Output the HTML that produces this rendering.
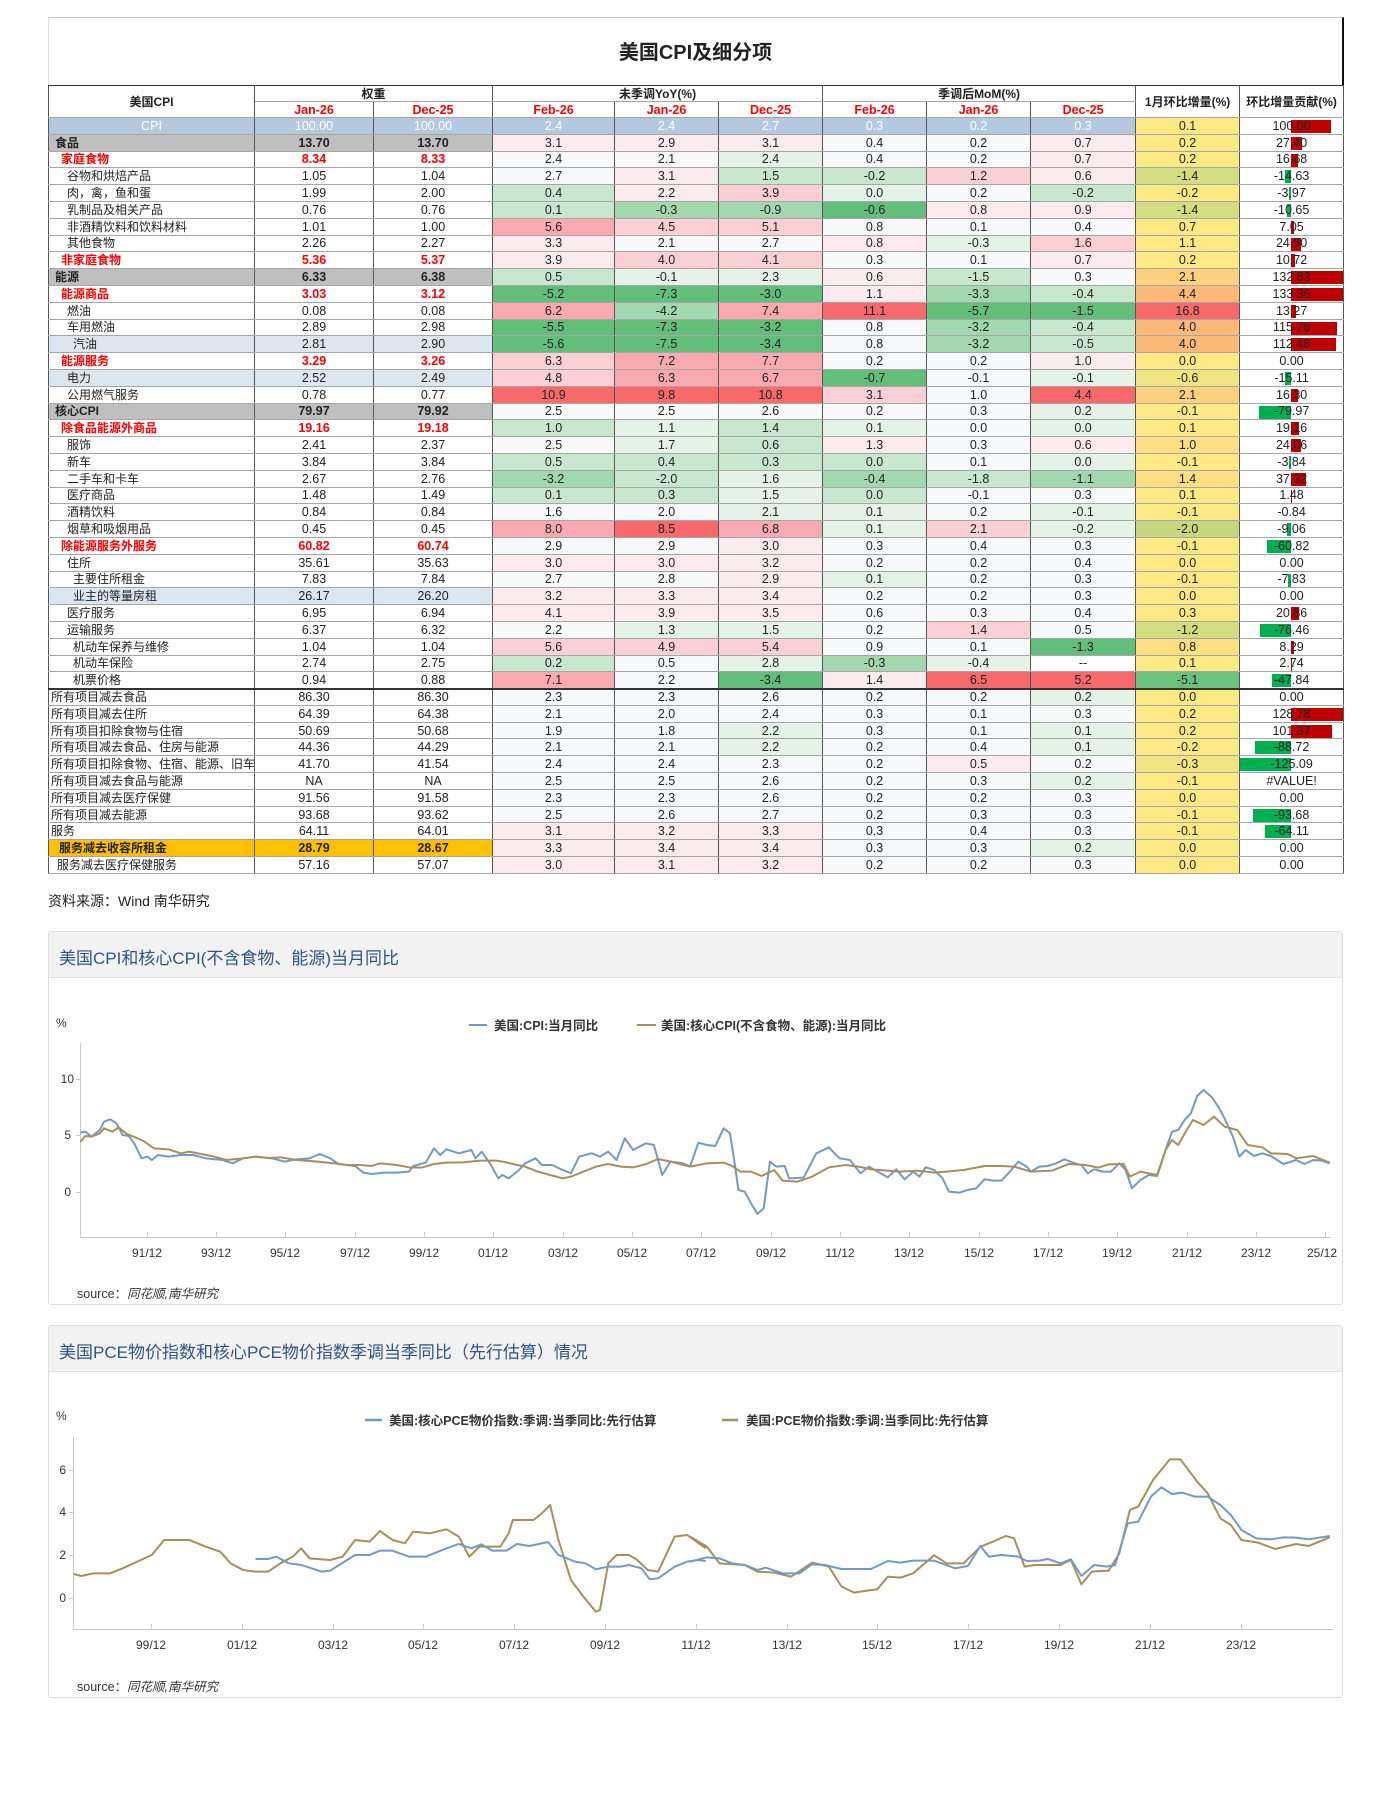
<!DOCTYPE html>
<html><head><meta charset="utf-8">
<style>
*{margin:0;padding:0;box-sizing:border-box}
body{width:1392px;height:1820px;background:#fff;position:relative;overflow:hidden;font-family:"Liberation Sans","Noto Sans CJK SC",sans-serif;color:#222}
.abs{position:absolute}
#box{left:48px;top:17px;width:1296px;height:854px;border-top:1px solid #ccc;border-left:1px solid #ddd;border-right:2px solid #111}
#title{left:48px;top:36px;width:1295px;text-align:center;font-size:20px;font-weight:bold;color:#222}
table{position:absolute;left:48px;top:85px;border-collapse:collapse;table-layout:fixed;width:1295px;font-family:"Liberation Sans Narrow","Liberation Sans","Noto Sans CJK SC",sans-serif;font-size:12.5px}
td{border-top:1px solid #a6a6a6;border-bottom:1px solid #a6a6a6;border-left:1px solid #555;border-right:1px solid #555;text-align:center;padding:0;height:16.8px;line-height:14px;white-space:nowrap;overflow:hidden;background:#f8f9fb}
tr.h td{height:16px;background:#fff;font-weight:bold;font-size:12px;border-top:1px solid #333}
tr.h td.r{color:#f00;font-size:12.5px}
td.l{text-align:left;background:#fff;font-family:"Liberation Sans","Noto Sans CJK SC",sans-serif;font-size:12px}
td.wt{background:#fff}
.i0{padding-left:6px!important;font-weight:bold}
.i1{padding-left:12px!important}
.i2{padding-left:18px!important}
.i3{padding-left:24px!important}
.i4{padding-left:2px!important}
.red td.l,.red td.wt{color:#f00;font-weight:bold}
.gray td.l,.gray td.wt{background:#bfbfbf;font-weight:bold}
.blue td.l,.blue td.wt{background:#dce6f1}
.gold td.l,.gold td.wt{background:#ffc000;font-weight:bold}
.cpi td{background:#b4c9e0!important;color:#fff}
.cpi td.y{background:#ffe984!important;color:#222}
.cpi td.c{background:#fff!important;color:#222}
tr.sep td{border-top:2px solid #333}
.g3{background:#63be7b!important}.g2{background:#a3d8ae!important}.g1{background:#c8e7cf!important}.g0{background:#e4f2e7!important}
.w{background:#f8f9fb!important}.r0{background:#fcebee!important}.r1{background:#fbd0d5!important}.r2{background:#f9aab0!important}.r3{background:#f8696b!important}
td.y{background:#ffe984}
.yg{background:#d3dc80!important}.yg2{background:#c5d87f!important}.y2{background:#f0e582!important}.or0{background:#fede82!important}.or{background:#fdd17f!important}.or2{background:#fbb97a!important}.rr{background:#f8696b!important}.gg{background:#6cc17c!important}
td.c{background:#fff;position:relative}
td.c span{position:relative;z-index:2}
td.c i{position:absolute;top:2px;height:13px;z-index:1}
i.p{left:51px;background:#c00000}
i.n{background:#00b050}
.panel{border:1px solid #ddd;border-radius:3px;background:#fff}
.phead{background:#f2f2f2;border-bottom:1px solid #e2e2e2;height:46px;font-size:17px;color:#2f5488;padding:12px 0 0 10px}
.src{font-size:12.5px;color:#333}
</style></head><body>
<div id="box" class="abs"></div>
<div id="title" class="abs">美国CPI及细分项</div>
<table>
<colgroup><col style="width:206px"><col style="width:119px"><col style="width:119px"><col style="width:122px"><col style="width:104px"><col style="width:104px"><col style="width:104px"><col style="width:104px"><col style="width:105px"><col style="width:104px"><col style="width:104px"></colgroup>
<tr class="h"><td rowspan="2">美国CPI</td><td colspan="2">权重</td><td colspan="3">未季调YoY(%)</td><td colspan="3">季调后MoM(%)</td><td rowspan="2">1月环比增量(%)</td><td rowspan="2">环比增量贡献(%)</td></tr>
<tr class="h"><td class="r">Jan-26</td><td class="r">Dec-25</td><td class="r">Feb-26</td><td class="r">Jan-26</td><td class="r">Dec-25</td><td class="r">Feb-26</td><td class="r">Jan-26</td><td class="r">Dec-25</td></tr>
<tr class="cpi"><td style="text-align:center">CPI</td><td>100.00</td><td>100.00</td><td>2.4</td><td>2.4</td><td>2.7</td><td>0.3</td><td>0.2</td><td>0.3</td><td class="y">0.1</td><td class="c"><i class="p" style="width:40px"></i><span>100.00</span></td></tr>
<tr class="gray"><td class="l i0">食品</td><td class="wt">13.70</td><td class="wt">13.70</td><td class="r0">3.1</td><td class="r0">2.9</td><td class="r0">3.1</td><td class="w">0.4</td><td class="w">0.2</td><td class="r0">0.7</td><td class="y">0.2</td><td class="c"><i class="p" style="width:11px"></i><span>27.40</span></td></tr>
<tr class="red"><td class="l i1">家庭食物</td><td class="wt">8.34</td><td class="wt">8.33</td><td class="w">2.4</td><td class="w">2.1</td><td class="g0">2.4</td><td class="w">0.4</td><td class="w">0.2</td><td class="r0">0.7</td><td class="y">0.2</td><td class="c"><i class="p" style="width:7px"></i><span>16.68</span></td></tr>
<tr><td class="l i2">谷物和烘焙产品</td><td class="wt">1.05</td><td class="wt">1.04</td><td class="w">2.7</td><td class="r0">3.1</td><td class="g1">1.5</td><td class="g1">-0.2</td><td class="r1">1.2</td><td class="r0">0.6</td><td class="y yg">-1.4</td><td class="c"><i class="n" style="left:45px;width:6px"></i><span>-14.63</span></td></tr>
<tr><td class="l i2">肉，禽，鱼和蛋</td><td class="wt">1.99</td><td class="wt">2.00</td><td class="g1">0.4</td><td class="r0">2.2</td><td class="r1">3.9</td><td class="g0">0.0</td><td class="w">0.2</td><td class="g1">-0.2</td><td class="y">-0.2</td><td class="c"><i class="n" style="left:49px;width:2px"></i><span>-3.97</span></td></tr>
<tr><td class="l i2">乳制品及相关产品</td><td class="wt">0.76</td><td class="wt">0.76</td><td class="g1">0.1</td><td class="g2">-0.3</td><td class="g2">-0.9</td><td class="g3">-0.6</td><td class="r0">0.8</td><td class="r0">0.9</td><td class="y yg">-1.4</td><td class="c"><i class="n" style="left:47px;width:4px"></i><span>-10.65</span></td></tr>
<tr><td class="l i2">非酒精饮料和饮料材料</td><td class="wt">1.01</td><td class="wt">1.00</td><td class="r2">5.6</td><td class="r1">4.5</td><td class="r1">5.1</td><td class="w">0.8</td><td class="w">0.1</td><td class="w">0.4</td><td class="y">0.7</td><td class="c"><i class="p" style="width:3px"></i><span>7.05</span></td></tr>
<tr><td class="l i2">其他食物</td><td class="wt">2.26</td><td class="wt">2.27</td><td class="r0">3.3</td><td class="w">2.1</td><td class="w">2.7</td><td class="r0">0.8</td><td class="g0">-0.3</td><td class="r1">1.6</td><td class="y">1.1</td><td class="c"><i class="p" style="width:10px"></i><span>24.90</span></td></tr>
<tr class="red"><td class="l i1">非家庭食物</td><td class="wt">5.36</td><td class="wt">5.37</td><td class="r0">3.9</td><td class="r1">4.0</td><td class="r1">4.1</td><td class="w">0.3</td><td class="w">0.1</td><td class="r0">0.7</td><td class="y">0.2</td><td class="c"><i class="p" style="width:4px"></i><span>10.72</span></td></tr>
<tr class="gray"><td class="l i0">能源</td><td class="wt">6.33</td><td class="wt">6.38</td><td class="g1">0.5</td><td class="g0">-0.1</td><td class="g0">2.3</td><td class="r0">0.6</td><td class="g1">-1.5</td><td class="w">0.3</td><td class="y or">2.1</td><td class="c"><i class="p" style="width:53px"></i><span>132.83</span></td></tr>
<tr class="red"><td class="l i1">能源商品</td><td class="wt">3.03</td><td class="wt">3.12</td><td class="g3">-5.2</td><td class="g3">-7.3</td><td class="g3">-3.0</td><td class="r0">1.1</td><td class="g2">-3.3</td><td class="g1">-0.4</td><td class="y or2">4.4</td><td class="c"><i class="p" style="width:53px"></i><span>133.36</span></td></tr>
<tr><td class="l i2">燃油</td><td class="wt">0.08</td><td class="wt">0.08</td><td class="r2">6.2</td><td class="g2">-4.2</td><td class="r2">7.4</td><td class="r3">11.1</td><td class="g3">-5.7</td><td class="g3">-1.5</td><td class="y rr">16.8</td><td class="c"><i class="p" style="width:5px"></i><span>13.27</span></td></tr>
<tr><td class="l i2">车用燃油</td><td class="wt">2.89</td><td class="wt">2.98</td><td class="g3">-5.5</td><td class="g3">-7.3</td><td class="g3">-3.2</td><td class="w">0.8</td><td class="g2">-3.2</td><td class="g1">-0.4</td><td class="y or2">4.0</td><td class="c"><i class="p" style="width:46px"></i><span>115.76</span></td></tr>
<tr class="blue"><td class="l i3">汽油</td><td class="wt">2.81</td><td class="wt">2.90</td><td class="g3">-5.6</td><td class="g3">-7.5</td><td class="g3">-3.4</td><td class="w">0.8</td><td class="g2">-3.2</td><td class="g1">-0.5</td><td class="y or2">4.0</td><td class="c"><i class="p" style="width:45px"></i><span>112.48</span></td></tr>
<tr class="red"><td class="l i1">能源服务</td><td class="wt">3.29</td><td class="wt">3.26</td><td class="r1">6.3</td><td class="r2">7.2</td><td class="r2">7.7</td><td class="w">0.2</td><td class="w">0.2</td><td class="r0">1.0</td><td class="y">0.0</td><td class="c"><span>0.00</span></td></tr>
<tr class="blue"><td class="l i2">电力</td><td class="wt">2.52</td><td class="wt">2.49</td><td class="r1">4.8</td><td class="r2">6.3</td><td class="r2">6.7</td><td class="g3">-0.7</td><td class="w">-0.1</td><td class="g0">-0.1</td><td class="y y2">-0.6</td><td class="c"><i class="n" style="left:45px;width:6px"></i><span>-15.11</span></td></tr>
<tr><td class="l i2">公用燃气服务</td><td class="wt">0.78</td><td class="wt">0.77</td><td class="r3">10.9</td><td class="r3">9.8</td><td class="r3">10.8</td><td class="r1">3.1</td><td class="w">1.0</td><td class="r3">4.4</td><td class="y or">2.1</td><td class="c"><i class="p" style="width:7px"></i><span>16.30</span></td></tr>
<tr class="gray"><td class="l i0">核心CPI</td><td class="wt">79.97</td><td class="wt">79.92</td><td class="w">2.5</td><td class="w">2.5</td><td class="w">2.6</td><td class="w">0.2</td><td class="w">0.3</td><td class="g0">0.2</td><td class="y">-0.1</td><td class="c"><i class="n" style="left:19px;width:32px"></i><span>-79.97</span></td></tr>
<tr class="red"><td class="l i1">除食品能源外商品</td><td class="wt">19.16</td><td class="wt">19.18</td><td class="g1">1.0</td><td class="g0">1.1</td><td class="g1">1.4</td><td class="g0">0.1</td><td class="w">0.0</td><td class="g0">0.0</td><td class="y">0.1</td><td class="c"><i class="p" style="width:8px"></i><span>19.16</span></td></tr>
<tr><td class="l i2">服饰</td><td class="wt">2.41</td><td class="wt">2.37</td><td class="w">2.5</td><td class="g0">1.7</td><td class="g1">0.6</td><td class="r0">1.3</td><td class="w">0.3</td><td class="r0">0.6</td><td class="y or0">1.0</td><td class="c"><i class="p" style="width:10px"></i><span>24.06</span></td></tr>
<tr><td class="l i2">新车</td><td class="wt">3.84</td><td class="wt">3.84</td><td class="g1">0.5</td><td class="g1">0.4</td><td class="g1">0.3</td><td class="g1">0.0</td><td class="w">0.1</td><td class="g0">0.0</td><td class="y">-0.1</td><td class="c"><i class="n" style="left:49px;width:2px"></i><span>-3.84</span></td></tr>
<tr><td class="l i2">二手车和卡车</td><td class="wt">2.67</td><td class="wt">2.76</td><td class="g2">-3.2</td><td class="g1">-2.0</td><td class="g0">1.6</td><td class="g2">-0.4</td><td class="g1">-1.8</td><td class="g2">-1.1</td><td class="y or0">1.4</td><td class="c"><i class="p" style="width:15px"></i><span>37.32</span></td></tr>
<tr><td class="l i2">医疗商品</td><td class="wt">1.48</td><td class="wt">1.49</td><td class="g1">0.1</td><td class="g1">0.3</td><td class="g0">1.5</td><td class="g1">0.0</td><td class="w">-0.1</td><td class="w">0.3</td><td class="y">0.1</td><td class="c"><i class="p" style="width:1px"></i><span>1.48</span></td></tr>
<tr><td class="l i2">酒精饮料</td><td class="wt">0.84</td><td class="wt">0.84</td><td class="w">1.6</td><td class="w">2.0</td><td class="g0">2.1</td><td class="g0">0.1</td><td class="w">0.2</td><td class="g0">-0.1</td><td class="y">-0.1</td><td class="c"><span>-0.84</span></td></tr>
<tr><td class="l i2">烟草和吸烟用品</td><td class="wt">0.45</td><td class="wt">0.45</td><td class="r2">8.0</td><td class="r3">8.5</td><td class="r2">6.8</td><td class="g0">0.1</td><td class="r1">2.1</td><td class="g0">-0.2</td><td class="y yg2">-2.0</td><td class="c"><i class="n" style="left:47px;width:4px"></i><span>-9.06</span></td></tr>
<tr class="red"><td class="l i1">除能源服务外服务</td><td class="wt">60.82</td><td class="wt">60.74</td><td class="w">2.9</td><td class="w">2.9</td><td class="r0">3.0</td><td class="w">0.3</td><td class="w">0.4</td><td class="w">0.3</td><td class="y">-0.1</td><td class="c"><i class="n" style="left:27px;width:24px"></i><span>-60.82</span></td></tr>
<tr><td class="l i2">住所</td><td class="wt">35.61</td><td class="wt">35.63</td><td class="r0">3.0</td><td class="r0">3.0</td><td class="r0">3.2</td><td class="w">0.2</td><td class="w">0.2</td><td class="w">0.4</td><td class="y">0.0</td><td class="c"><span>0.00</span></td></tr>
<tr><td class="l i3">主要住所租金</td><td class="wt">7.83</td><td class="wt">7.84</td><td class="w">2.7</td><td class="w">2.8</td><td class="r0">2.9</td><td class="g0">0.1</td><td class="w">0.2</td><td class="w">0.3</td><td class="y">-0.1</td><td class="c"><i class="n" style="left:48px;width:3px"></i><span>-7.83</span></td></tr>
<tr class="blue"><td class="l i3">业主的等量房租</td><td class="wt">26.17</td><td class="wt">26.20</td><td class="r0">3.2</td><td class="r0">3.3</td><td class="r0">3.4</td><td class="w">0.2</td><td class="w">0.2</td><td class="w">0.3</td><td class="y">0.0</td><td class="c"><span>0.00</span></td></tr>
<tr><td class="l i2">医疗服务</td><td class="wt">6.95</td><td class="wt">6.94</td><td class="r0">4.1</td><td class="r0">3.9</td><td class="r0">3.5</td><td class="w">0.6</td><td class="w">0.3</td><td class="w">0.4</td><td class="y">0.3</td><td class="c"><i class="p" style="width:8px"></i><span>20.86</span></td></tr>
<tr><td class="l i2">运输服务</td><td class="wt">6.37</td><td class="wt">6.32</td><td class="w">2.2</td><td class="g0">1.3</td><td class="g0">1.5</td><td class="w">0.2</td><td class="r1">1.4</td><td class="w">0.5</td><td class="y yg">-1.2</td><td class="c"><i class="n" style="left:20px;width:31px"></i><span>-76.46</span></td></tr>
<tr><td class="l i3">机动车保养与维修</td><td class="wt">1.04</td><td class="wt">1.04</td><td class="r1">5.6</td><td class="r1">4.9</td><td class="r1">5.4</td><td class="w">0.9</td><td class="w">0.1</td><td class="g3">-1.3</td><td class="y or0">0.8</td><td class="c"><i class="p" style="width:3px"></i><span>8.29</span></td></tr>
<tr><td class="l i3">机动车保险</td><td class="wt">2.74</td><td class="wt">2.75</td><td class="g1">0.2</td><td class="w">0.5</td><td class="g0">2.8</td><td class="g2">-0.3</td><td class="g0">-0.4</td><td class="w" style="background:#fff!important">--</td><td class="y">0.1</td><td class="c"><i class="p" style="width:1px"></i><span>2.74</span></td></tr>
<tr><td class="l i3">机票价格</td><td class="wt">0.94</td><td class="wt">0.88</td><td class="r2">7.1</td><td class="w">2.2</td><td class="g3">-3.4</td><td class="r0">1.4</td><td class="r3">6.5</td><td class="r3">5.2</td><td class="y gg">-5.1</td><td class="c"><i class="n" style="left:32px;width:19px"></i><span>-47.84</span></td></tr>
<tr class="sep"><td class="l i4">所有项目减去食品</td><td class="wt">86.30</td><td class="wt">86.30</td><td class="w">2.3</td><td class="w">2.3</td><td class="w">2.6</td><td class="w">0.2</td><td class="w">0.2</td><td class="g0">0.2</td><td class="y">0.0</td><td class="c"><span>0.00</span></td></tr>
<tr><td class="l i4">所有项目减去住所</td><td class="wt">64.39</td><td class="wt">64.38</td><td class="w">2.1</td><td class="w">2.0</td><td class="w">2.4</td><td class="w">0.3</td><td class="w">0.1</td><td class="w">0.3</td><td class="y">0.2</td><td class="c"><i class="p" style="width:52px"></i><span>128.78</span></td></tr>
<tr><td class="l i4">所有项目扣除食物与住宿</td><td class="wt">50.69</td><td class="wt">50.68</td><td class="w">1.9</td><td class="w">1.8</td><td class="g0">2.2</td><td class="w">0.3</td><td class="w">0.1</td><td class="g0">0.1</td><td class="y">0.2</td><td class="c"><i class="p" style="width:41px"></i><span>101.37</span></td></tr>
<tr><td class="l i4">所有项目减去食品、住房与能源</td><td class="wt">44.36</td><td class="wt">44.29</td><td class="w">2.1</td><td class="w">2.1</td><td class="g0">2.2</td><td class="w">0.2</td><td class="w">0.4</td><td class="g0">0.1</td><td class="y">-0.2</td><td class="c"><i class="n" style="left:15px;width:36px"></i><span>-88.72</span></td></tr>
<tr><td class="l i4">所有项目扣除食物、住宿、能源、旧车</td><td class="wt">41.70</td><td class="wt">41.54</td><td class="w">2.4</td><td class="w">2.4</td><td class="w">2.3</td><td class="w">0.2</td><td class="r0">0.5</td><td class="w">0.2</td><td class="y y2">-0.3</td><td class="c"><i class="n" style="left:0;width:51px"></i><span>-125.09</span></td></tr>
<tr><td class="l i4">所有项目减去食品与能源</td><td class="wt">NA</td><td class="wt">NA</td><td class="w">2.5</td><td class="w">2.5</td><td class="w">2.6</td><td class="w">0.2</td><td class="w">0.3</td><td class="g0">0.2</td><td class="y">-0.1</td><td class="c"><span>#VALUE!</span></td></tr>
<tr><td class="l i4">所有项目减去医疗保健</td><td class="wt">91.56</td><td class="wt">91.58</td><td class="w">2.3</td><td class="w">2.3</td><td class="w">2.6</td><td class="w">0.2</td><td class="w">0.2</td><td class="w">0.3</td><td class="y">0.0</td><td class="c"><span>0.00</span></td></tr>
<tr><td class="l i4">所有项目减去能源</td><td class="wt">93.68</td><td class="wt">93.62</td><td class="w">2.5</td><td class="w">2.6</td><td class="w">2.7</td><td class="w">0.2</td><td class="w">0.3</td><td class="w">0.3</td><td class="y">-0.1</td><td class="c"><i class="n" style="left:13px;width:38px"></i><span>-93.68</span></td></tr>
<tr><td class="l i4">服务</td><td class="wt">64.11</td><td class="wt">64.01</td><td class="r0">3.1</td><td class="r0">3.2</td><td class="r0">3.3</td><td class="w">0.3</td><td class="w">0.4</td><td class="w">0.3</td><td class="y">-0.1</td><td class="c"><i class="n" style="left:25px;width:26px"></i><span>-64.11</span></td></tr>
<tr class="gold"><td class="l" style="padding-left:10px">服务减去收容所租金</td><td class="wt">28.79</td><td class="wt">28.67</td><td class="r0">3.3</td><td class="r0">3.4</td><td class="r0">3.4</td><td class="w">0.3</td><td class="w">0.3</td><td class="g0">0.2</td><td class="y">0.0</td><td class="c"><span>0.00</span></td></tr>
<tr><td class="l" style="padding-left:8px">服务减去医疗保健服务</td><td class="wt">57.16</td><td class="wt">57.07</td><td class="r0">3.0</td><td class="r0">3.1</td><td class="r0">3.2</td><td class="w">0.2</td><td class="w">0.2</td><td class="w">0.3</td><td class="y">0.0</td><td class="c"><span>0.00</span></td></tr>
</table>

<div class="abs" style="left:48px;top:891px;font-size:14px;color:#222">资料来源：Wind 南华研究</div>

<div class="abs panel" style="left:48px;top:931px;width:1295px;height:374px"><div class="phead">美国CPI和核心CPI(不含食物、能源)当月同比</div></div>
<div class="abs panel" style="left:48px;top:1325px;width:1295px;height:373px"><div class="phead">美国PCE物价指数和核心PCE物价指数季调当季同比（先行估算）情况</div></div>

<svg class="abs" style="left:0;top:0" width="1392" height="1820" xmlns="http://www.w3.org/2000/svg" font-family="Liberation Sans, Noto Sans CJK SC, sans-serif">
<g stroke="#c8c8c8" stroke-width="1" fill="none">
<line x1="80.5" y1="1043" x2="80.5" y2="1237"/>
<line x1="80" y1="1237.5" x2="1331" y2="1237.5"/>
<line x1="76" y1="1079.5" x2="80" y2="1079.5"/><line x1="76" y1="1135.5" x2="80" y2="1135.5"/><line x1="76" y1="1192.5" x2="80" y2="1192.5"/>
<line x1="73.5" y1="1437" x2="73.5" y2="1629"/>
<line x1="73" y1="1629.5" x2="1333" y2="1629.5"/>
<line x1="69" y1="1470.5" x2="73" y2="1470.5"/><line x1="69" y1="1512.5" x2="73" y2="1512.5"/><line x1="69" y1="1555.5" x2="73" y2="1555.5"/><line x1="69" y1="1598.5" x2="73" y2="1598.5"/>
</g>
<g stroke="#c8c8c8">
<line x1="147.5" y1="1232" x2="147.5" y2="1237"/><line x1="216.5" y1="1232" x2="216.5" y2="1237"/><line x1="285.5" y1="1232" x2="285.5" y2="1237"/><line x1="355.5" y1="1232" x2="355.5" y2="1237"/><line x1="424.5" y1="1232" x2="424.5" y2="1237"/><line x1="493.5" y1="1232" x2="493.5" y2="1237"/><line x1="563.5" y1="1232" x2="563.5" y2="1237"/><line x1="632.5" y1="1232" x2="632.5" y2="1237"/><line x1="701.5" y1="1232" x2="701.5" y2="1237"/><line x1="771.5" y1="1232" x2="771.5" y2="1237"/><line x1="840.5" y1="1232" x2="840.5" y2="1237"/><line x1="909.5" y1="1232" x2="909.5" y2="1237"/><line x1="979.5" y1="1232" x2="979.5" y2="1237"/><line x1="1048.5" y1="1232" x2="1048.5" y2="1237"/><line x1="1117.5" y1="1232" x2="1117.5" y2="1237"/><line x1="1187.5" y1="1232" x2="1187.5" y2="1237"/><line x1="1256.5" y1="1232" x2="1256.5" y2="1237"/><line x1="1325.5" y1="1232" x2="1325.5" y2="1237"/>
<line x1="151.5" y1="1624" x2="151.5" y2="1629"/><line x1="242.5" y1="1624" x2="242.5" y2="1629"/><line x1="333.5" y1="1624" x2="333.5" y2="1629"/><line x1="423.5" y1="1624" x2="423.5" y2="1629"/><line x1="514.5" y1="1624" x2="514.5" y2="1629"/><line x1="605.5" y1="1624" x2="605.5" y2="1629"/><line x1="696.5" y1="1624" x2="696.5" y2="1629"/><line x1="787.5" y1="1624" x2="787.5" y2="1629"/><line x1="877.5" y1="1624" x2="877.5" y2="1629"/><line x1="968.5" y1="1624" x2="968.5" y2="1629"/><line x1="1059.5" y1="1624" x2="1059.5" y2="1629"/><line x1="1150.5" y1="1624" x2="1150.5" y2="1629"/><line x1="1241.5" y1="1624" x2="1241.5" y2="1629"/>
</g>
<g font-size="12" fill="#333">
<text x="56" y="1027">%</text>
<text x="74" y="1083" text-anchor="end">10</text><text x="71" y="1139" text-anchor="end">5</text><text x="71" y="1196" text-anchor="end">0</text>
<g text-anchor="middle">
<text x="147" y="1257">91/12</text><text x="216" y="1257">93/12</text><text x="285" y="1257">95/12</text><text x="355" y="1257">97/12</text><text x="424" y="1257">99/12</text><text x="493" y="1257">01/12</text><text x="563" y="1257">03/12</text><text x="632" y="1257">05/12</text><text x="701" y="1257">07/12</text><text x="771" y="1257">09/12</text><text x="840" y="1257">11/12</text><text x="909" y="1257">13/12</text><text x="979" y="1257">15/12</text><text x="1048" y="1257">17/12</text><text x="1117" y="1257">19/12</text><text x="1187" y="1257">21/12</text><text x="1256" y="1257">23/12</text><text x="1322" y="1257">25/12</text>
</g>
<text x="56" y="1420">%</text>
<text x="66" y="1474" text-anchor="end">6</text><text x="66" y="1516" text-anchor="end">4</text><text x="66" y="1559" text-anchor="end">2</text><text x="66" y="1602" text-anchor="end">0</text>
<g text-anchor="middle">
<text x="151" y="1649">99/12</text><text x="242" y="1649">01/12</text><text x="333" y="1649">03/12</text><text x="423" y="1649">05/12</text><text x="514" y="1649">07/12</text><text x="605" y="1649">09/12</text><text x="696" y="1649">11/12</text><text x="787" y="1649">13/12</text><text x="877" y="1649">15/12</text><text x="968" y="1649">17/12</text><text x="1059" y="1649">19/12</text><text x="1150" y="1649">21/12</text><text x="1241" y="1649">23/12</text>
</g>
</g>
<line x1="469" y1="1025" x2="487" y2="1025" stroke="#7399c6" stroke-width="2"/>
<text x="494" y="1030" font-size="12.5" font-weight="bold" fill="#333">美国:CPI:当月同比</text>
<line x1="637" y1="1025" x2="656" y2="1025" stroke="#a88f5a" stroke-width="2"/>
<text x="661" y="1030" font-size="12.5" font-weight="bold" fill="#333">美国:核心CPI(不含食物、能源):当月同比</text>
<line x1="365" y1="1420" x2="382" y2="1420" stroke="#7399c6" stroke-width="2.5"/>
<text x="389" y="1425" font-size="12.5" font-weight="bold" fill="#333">美国:核心PCE物价指数:季调:当季同比:先行估算</text>
<line x1="722" y1="1420" x2="738" y2="1420" stroke="#a88f5a" stroke-width="2.5"/>
<text x="746" y="1425" font-size="12.5" font-weight="bold" fill="#333">美国:PCE物价指数:季调:当季同比:先行估算</text>

<g fill="none" stroke-width="2" stroke-linejoin="round">
<g transform="translate(48,1010) scale(0.415,0.3333)">
<polyline vector-effect="non-scaling-stroke" stroke="#7399c6" points="78,368 90,365 105,380 115,370 125,360 135,335 150,328 165,340 180,375 195,378 210,405 225,445 240,440 250,450 265,435 290,440 320,435 350,435 380,445 420,450 445,460 470,445 500,440 540,445 570,455 600,448 630,445 655,432 680,445 700,462 740,468 760,488 780,492 810,488 840,488 870,485 880,468 910,458 930,415 945,435 960,418 990,430 1020,420 1030,445 1045,425 1065,460 1085,505 1095,495 1110,505 1120,495 1135,480 1150,460 1175,445 1190,465 1215,465 1240,480 1260,490 1280,440 1310,430 1330,440 1350,425 1370,450 1390,385 1410,420 1425,410 1440,400 1460,405 1480,495 1500,455 1530,460 1548,470"/>
<polyline vector-effect="non-scaling-stroke" stroke="#a88f5a" points="78,395 90,378 105,380 125,370 135,355 155,365 170,352 190,372 210,382 230,393 255,415 290,418 320,430 340,425 370,432 400,440 430,450 470,445 500,440 530,444 560,442 600,450 650,455 690,460 720,465 750,465 780,468 800,460 840,465 870,472 900,473 930,462 960,458 1000,457 1040,452 1080,452 1100,456 1120,462 1150,470 1180,485 1210,495 1240,505 1260,500 1290,485 1320,470 1350,462 1380,470 1410,472 1440,463 1470,447 1500,455 1548,470"/>
</g>
<g transform="translate(690,1010) scale(0.4209,0.3333)">
<polyline vector-effect="non-scaling-stroke" stroke="#7399c6" points="0,470 20,398 40,405 60,408 80,355 95,370 105,450 115,540 130,545 145,580 160,612 175,595 190,455 205,470 225,468 235,505 270,503 300,430 330,412 355,445 380,450 405,490 425,470 450,488 470,502 490,478 510,508 530,485 545,500 560,472 580,480 600,505 615,545 640,548 660,540 680,535 700,508 720,512 740,512 760,485 780,455 800,470 810,485 830,470 850,468 870,460 890,448 910,458 930,465 945,490 960,478 980,485 1000,485 1020,460 1035,480 1050,535 1070,510 1090,495 1110,498 1130,420 1145,365 1160,360 1175,330 1190,310 1205,258 1220,240 1240,262 1255,290 1270,325 1290,380 1305,440 1320,420 1340,438 1360,430 1380,438 1410,462 1440,450 1460,462 1480,450 1500,452 1520,460"/>
<polyline vector-effect="non-scaling-stroke" stroke="#a88f5a" points="0,470 40,460 80,458 100,468 120,485 145,485 170,498 200,480 220,512 255,515 290,500 330,472 370,465 400,470 430,478 470,482 500,485 540,482 580,488 610,485 650,480 700,468 740,468 770,470 810,485 860,482 900,462 940,465 970,473 995,463 1030,462 1045,500 1070,485 1110,495 1130,420 1145,390 1160,405 1180,360 1195,330 1220,345 1245,320 1270,350 1300,360 1325,405 1360,412 1380,430 1420,432 1440,445 1480,438 1520,458"/>
</g>
<g transform="translate(48,1400) scale(0.415,0.3333)">
<polyline vector-effect="non-scaling-stroke" stroke="#a88f5a" points="62,522 80,528 110,520 150,520 180,505 250,465 280,420 340,420 380,440 415,455 440,490 470,510 500,515 530,515 560,490 590,470 610,445 630,475 680,480 710,470 740,420 775,425 800,393 830,420 860,430 880,395 920,400 960,388 990,410 1015,470 1040,440 1090,440 1110,400 1120,360 1170,360 1190,340 1210,315 1230,420 1260,540 1290,590 1320,635 1330,630 1350,490 1370,465 1400,465 1420,480 1445,510 1470,515 1510,410 1540,405 1568,430 1585,445"/>
<polyline vector-effect="non-scaling-stroke" stroke="#7399c6" points="500,477 530,477 550,470 580,490 610,495 660,515 680,512 740,465 775,465 800,452 830,452 870,470 910,470 960,445 990,432 1020,445 1045,433 1070,452 1105,452 1130,432 1160,438 1205,426 1230,465 1270,485 1295,490 1320,508 1350,500 1380,500 1400,495 1430,505 1450,538 1470,535 1510,500 1540,485 1568,480 1585,483"/>
</g>
<g transform="translate(690,1400) scale(0.4209,0.3333)">
<polyline vector-effect="non-scaling-stroke" stroke="#a88f5a" points="0,410 40,440 70,490 130,495 160,515 200,518 240,530 290,488 330,500 360,560 390,578 420,572 445,568 470,530 500,533 530,520 580,466 610,490 650,490 690,440 720,425 750,408 770,415 795,500 820,495 880,495 905,480 930,553 955,515 995,512 1020,460 1045,330 1065,320 1100,240 1140,178 1165,178 1205,245 1230,280 1260,355 1285,375 1310,420 1350,428 1390,447 1440,432 1470,438 1520,412"/>
<polyline vector-effect="non-scaling-stroke" stroke="#7399c6" points="0,485 40,472 70,475 100,490 130,495 160,510 180,503 220,520 260,520 290,493 320,495 360,507 430,507 470,483 500,488 530,482 580,482 630,505 660,498 690,438 710,470 740,465 780,470 800,483 830,482 850,477 880,490 905,478 930,528 960,495 990,500 1010,495 1040,370 1065,365 1095,290 1120,262 1145,282 1170,278 1200,290 1230,290 1260,315 1285,345 1310,390 1345,415 1380,418 1410,412 1440,413 1470,418 1520,408"/>
</g>
</g>
</svg>
<div class="abs src" style="left:77px;top:1283px">source：<i>同花顺,南华研究</i></div>
<div class="abs src" style="left:77px;top:1676px">source：<i>同花顺,南华研究</i></div>
</body></html>
